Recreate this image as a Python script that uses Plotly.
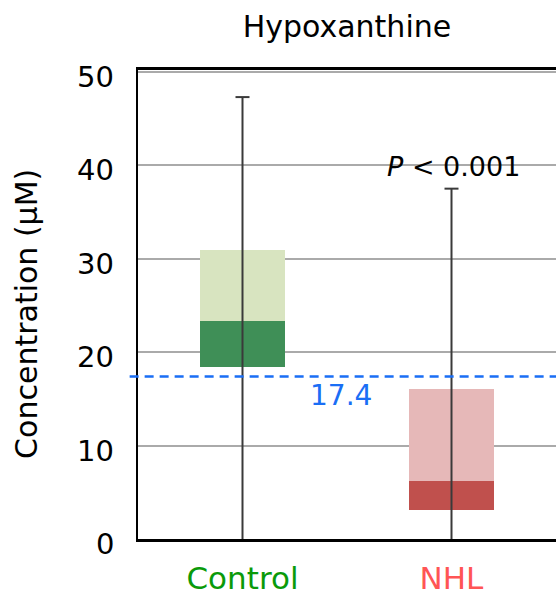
import plotly.graph_objects as go

categories = ["Control", "NHL"]
whisker_min = [0.0, 0.0]
q1 = [18.4, 3.1]
median = [23.3, 6.2]
q3 = [30.9, 16.1]
whisker_max = [47.3, 37.5]
reference_value = 17.4
y_ticks = [0, 10, 20, 30, 40, 50]
p_text = "<i>P</i> < 0.001"
y_title = "Concentration (µM)"
label_colors = ["#0a9a0a", "#ff5555"]
dark_colors = ["#3f8f57", "#c0504d"]
light_colors = ["#d8e4c0", "#e6b8b8"]

FONT = "DejaVu Sans, Liberation Sans, Arial, sans-serif"

fig = go.Figure()
# whiskers
for i, c in enumerate(categories):
    fig.add_trace(go.Scatter(x=[c, c], y=[whisker_min[i], whisker_max[i]], mode="lines",
                             line=dict(color="#3a3a3a", width=2), showlegend=False, hoverinfo="skip"))
    fig.add_trace(go.Scatter(x=[c], y=[whisker_max[i]], mode="markers",
                             marker=dict(symbol="line-ew", size=10, line=dict(color="#3a3a3a", width=2)),
                             showlegend=False, hoverinfo="skip"))

fig.add_trace(go.Bar(x=categories, y=[m - a for m, a in zip(median, q1)], base=q1,
                     marker=dict(color=dark_colors, line=dict(width=0)), width=0.41, showlegend=False))
fig.add_trace(go.Bar(x=categories, y=[b - m for b, m in zip(q3, median)], base=median,
                     marker=dict(color=light_colors, line=dict(width=0)), width=0.41, showlegend=False))

fig.add_shape(type="line", xref="paper", yref="y", x0=-0.02, x1=1, y0=reference_value, y1=reference_value,
              line=dict(color="#1a6ef5", width=2.5, dash="9px,6px"), layer="above")
fig.add_annotation(x=0.5, y=reference_value, xref="x", yref="y", text=str(reference_value), showarrow=False,
                   yanchor="top", yshift=-1, xshift=-6, font=dict(color="#1a6ef5", size=28, family=FONT))
fig.add_annotation(x=1, y=whisker_max[1], xref="x", yref="y", text=p_text, showarrow=False,
                   yanchor="bottom", yshift=5, xshift=2, font=dict(color="#000", size=27, family=FONT))
fig.add_annotation(x=0, y=0.48, xref="paper", yref="paper", text=y_title, showarrow=False,
                   textangle=-90, xanchor="center", yanchor="middle", xshift=-111,
                   font=dict(color="#000", size=30, family=FONT))
for t in y_ticks:
    fig.add_annotation(x=0, y=t, xref="paper", yref="y", text=str(t), showarrow=False,
                       xanchor="right", yanchor="middle", xshift=-22, yshift=-5,
                       font=dict(color="#000", size=29, family=FONT))

fig.update_layout(
    width=556, height=596,
    margin=dict(l=138, r=0, t=70, b=57),
    plot_bgcolor="white", paper_bgcolor="white",
    font=dict(family=FONT, size=28, color="#000"),
    title=dict(text="Hypoxanthine", x=0.624, xanchor="center", y=0.955, yanchor="middle",
               font=dict(size=30, family=FONT)),
    barmode="overlay",
    bargap=0,
)
fig.update_xaxes(type="category", range=[-0.5, 1.5], showline=True, linecolor="#000", linewidth=2.5,
                 mirror=True, ticks="", showgrid=False, tickfont=dict(size=31, family=FONT),
                 ticklabelstandoff=10,
                 tickvals=categories,
                 ticktext=[f'<span style="color:{col}">{c}</span>' for c, col in zip(categories, label_colors)])
fig.update_yaxes(range=[0, 50.2], tickvals=y_ticks, showticklabels=False, showline=True, linecolor="#000",
                 linewidth=2, showgrid=True, gridcolor="#aaaaaa", gridwidth=1.5, zeroline=False,
                 ticks="", ticklen=0)

fig.write_html("out.html")
